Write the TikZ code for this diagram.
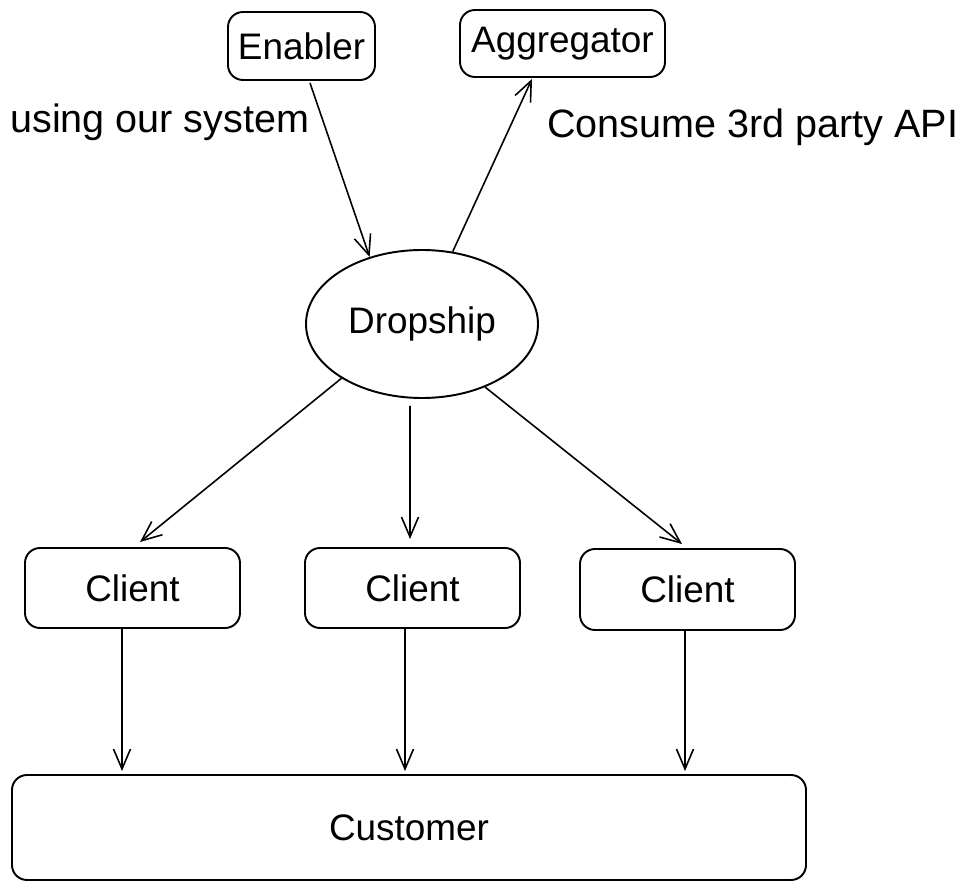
\documentclass[tikz,border=0pt]{standalone}
\usepackage{fontspec}
\setmainfont{Liberation Sans}
\usetikzlibrary{arrows.meta,shapes.geometric}
\tikzset{
  blk/.style={draw,line width=1.1pt,rounded corners=3mm,inner sep=0pt,font=\fontsize{21}{25}\selectfont},
  hub/.style={draw,ellipse,line width=1.1pt,inner sep=0pt,minimum width=46.4mm,minimum height=29.6mm,font=\fontsize{21}{25}\selectfont},
  flow/.style={-{Straight Barb[length=4mm,width=3.4mm]},line width=0.9pt},
  note/.style={inner sep=0pt,font=\fontsize{22.5}{26}\selectfont},
}
\begin{document}
\begin{tikzpicture}[x=0.2mm,y=-0.2mm]
  \useasboundingbox (0,0) rectangle (975,889);
  % top row
  \node[blk,minimum width=29.4mm,minimum height=13.6mm] (enab) at (301.5,46) {Enabler};
  \node[blk,minimum width=41mm,minimum height=13.4mm] (aggr) at (562.5,43.5) {Aggregator};
  \node[note,anchor=base west] (lblA) at (10,133) {using our system};
  \node[note,anchor=base west] (lblB) at (547,138) {Consume 3rd party API};
  % hub
  \node[hub] (drop) at (422,324) {Dropship};
  % clients
  \node[blk,minimum width=43mm,minimum height=16mm] (cl1) at (132.5,588) {Client};
  \node[blk,minimum width=43mm,minimum height=16mm] (cl2) at (412.5,588) {Client};
  \node[blk,minimum width=43mm,minimum height=16.2mm] (cl3) at (687.5,589.5) {Client};
  \node[blk,minimum width=158.8mm,minimum height=21mm] (cust) at (409,827.5) {Customer};
  % connectors
  \draw[flow] ([xshift=1.7mm,yshift=-0.4mm]enab.south) -- (drop.128);
  \draw[flow] (drop.67) -- ([xshift=-6.1mm,yshift=-0.2mm]aggr.south);
  \draw[flow] (drop.214) -- ([xshift=1.5mm,yshift=1mm]cl1.north);
  \draw[flow] ([xshift=-2.4mm,yshift=-1.4mm]drop.south) -- ([xshift=-0.5mm,yshift=1.6mm]cl2.north);
  \draw[flow] (drop.-45) -- ([xshift=-1.1mm,yshift=0.8mm]cl3.north);
  \draw[flow] ([xshift=-2.1mm]cl1.south) -- ([xshift=-2.1mm,yshift=0.6mm]cl1.south |- cust.north);
  \draw[flow] ([xshift=-1.5mm]cl2.south) -- ([xshift=-1.5mm,yshift=0.6mm]cl2.south |- cust.north);
  \draw[flow] ([xshift=-0.5mm]cl3.south) -- ([xshift=-0.5mm,yshift=0.6mm]cl3.south |- cust.north);
\end{tikzpicture}
\end{document}
